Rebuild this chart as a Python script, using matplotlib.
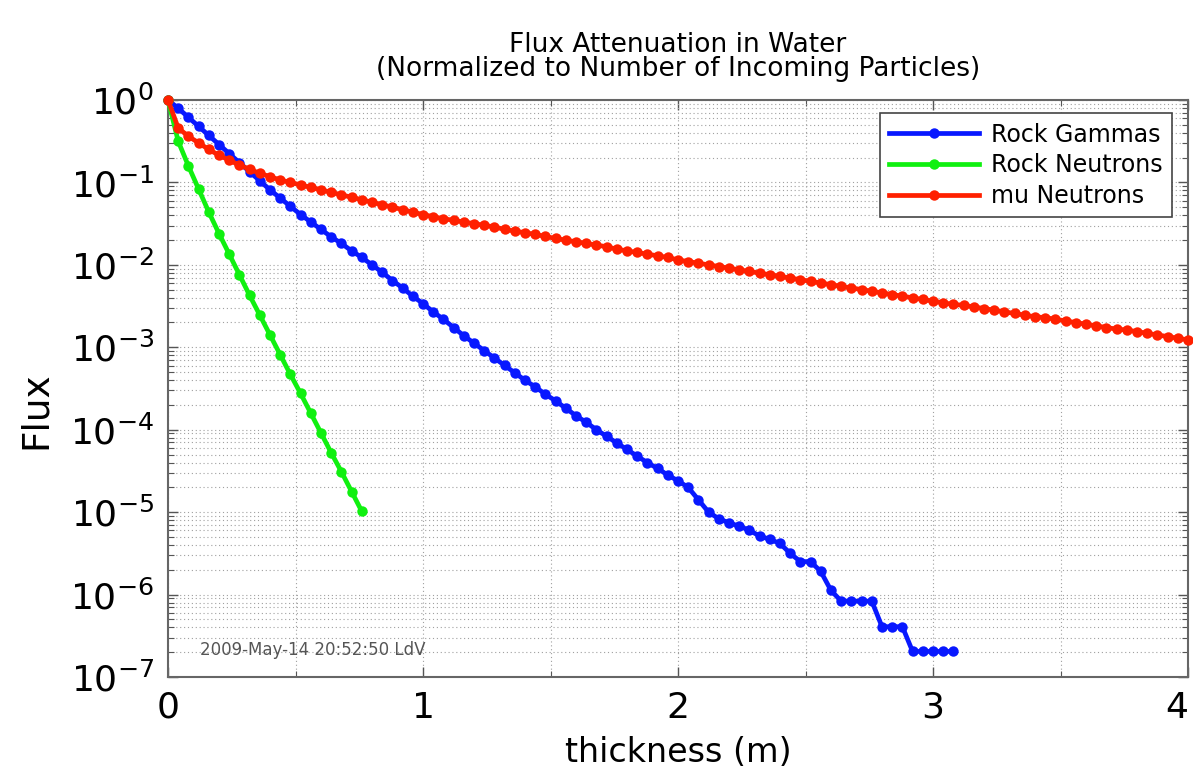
import numpy as np
import matplotlib
matplotlib.use("Agg")
import matplotlib.pyplot as plt
from matplotlib.ticker import MultipleLocator, LogLocator, FixedLocator, NullFormatter, LogFormatterMathtext

plt.rcParams['font.family'] = ['DejaVu Sans']
plt.rcParams['mathtext.fontset'] = 'dejavusans'

# ---------------- data ----------------
thickness = [0.0, 0.04, 0.08, 0.12, 0.16, 0.2, 0.24, 0.28, 0.32, 0.36, 0.4, 0.44, 0.48,
             0.52, 0.56, 0.6, 0.64, 0.68, 0.72, 0.76, 0.8, 0.84, 0.88, 0.92, 0.96, 1.0,
             1.04, 1.08, 1.12, 1.16, 1.2, 1.24, 1.28, 1.32, 1.36, 1.4, 1.44, 1.48, 1.52,
             1.56, 1.6, 1.64, 1.68, 1.72, 1.76, 1.8, 1.84, 1.88, 1.92, 1.96, 2.0, 2.04,
             2.08, 2.12, 2.16, 2.2, 2.24, 2.28, 2.32, 2.36, 2.4, 2.44, 2.48, 2.52, 2.56,
             2.6, 2.64, 2.68, 2.72, 2.76, 2.8, 2.84, 2.88, 2.92, 2.96, 3.0, 3.04, 3.08,
             3.12, 3.16, 3.2, 3.24, 3.28, 3.32, 3.36, 3.4, 3.44, 3.48, 3.52, 3.56, 3.6,
             3.64, 3.68, 3.72, 3.76, 3.8, 3.84, 3.88, 3.92, 3.96, 4.0]

# log10 of the normalized flux
rock_gammas_log10 = [0.00, -0.10, -0.21, -0.32, -0.43, -0.54, -0.65, -0.76, -0.87, -0.98,
                     -1.09, -1.19, -1.29, -1.39, -1.48, -1.57, -1.66, -1.74, -1.83, -1.91,
                     -2.00, -2.09, -2.19, -2.28, -2.38, -2.47, -2.57, -2.66, -2.76, -2.86,
                     -2.95, -3.04, -3.13, -3.22, -3.31, -3.40, -3.48, -3.57, -3.65, -3.74,
                     -3.83, -3.91, -4.00, -4.08, -4.16, -4.24, -4.32, -4.40, -4.47, -4.55,
                     -4.62, -4.70, -4.85, -5.00, -5.08, -5.13, -5.17, -5.22, -5.29, -5.33,
                     -5.38, -5.50, -5.60, -5.60, -5.72, -5.95, -6.08, -6.08, -6.08, -6.08,
                     -6.39, -6.39, -6.39, -6.69, -6.69, -6.69, -6.69, -6.69]

rock_neutrons_log10 = [0.00, -0.50, -0.80, -1.08, -1.36, -1.62, -1.87, -2.12, -2.37, -2.61,
                       -2.85, -3.09, -3.33, -3.56, -3.80, -4.04, -4.28, -4.51, -4.75, -4.99]

mu_neutrons_log10 = [0.00, -0.34, -0.44, -0.52, -0.60, -0.67, -0.73, -0.79, -0.84, -0.89,
                     -0.93, -0.97, -1.00, -1.03, -1.06, -1.09, -1.12, -1.15, -1.18, -1.21,
                     -1.24, -1.27, -1.30, -1.33, -1.36, -1.39, -1.415, -1.44, -1.46, -1.48,
                     -1.50, -1.52, -1.54, -1.57, -1.59, -1.61, -1.63, -1.655, -1.68, -1.70,
                     -1.72, -1.74, -1.76, -1.78, -1.81, -1.83, -1.85, -1.87, -1.89, -1.91,
                     -1.94, -1.96, -1.98, -2.00, -2.02, -2.04, -2.06, -2.08, -2.10, -2.12,
                     -2.14, -2.16, -2.18, -2.20, -2.22, -2.24, -2.26, -2.28, -2.30, -2.32,
                     -2.34, -2.36, -2.38, -2.40, -2.42, -2.44, -2.46, -2.48, -2.49, -2.51,
                     -2.53, -2.55, -2.57, -2.59, -2.61, -2.63, -2.64, -2.66, -2.68, -2.70,
                     -2.72, -2.74, -2.76, -2.78, -2.79, -2.81, -2.83, -2.85, -2.87, -2.89,
                     -2.91]

series_names = ["Rock Gammas", "Rock Neutrons", "mu Neutrons"]
series_colors = ["#0818ff", "#10f010", "#ff2000"]

x_ticks = [0, 1, 2, 3, 4]
title_text = "Flux Attenuation in Water\n(Normalized to Number of Incoming Particles)"
stamp_text = "2009-May-14 20:52:50 LdV"

# ---------------- figure ----------------
W, H = 1193, 772
fig = plt.figure(figsize=(W / 100, H / 100), dpi=100)
ax = fig.add_axes([168 / W, 95 / H, 1020 / W, 577 / H])

all_logs = [rock_gammas_log10, rock_neutrons_log10, mu_neutrons_log10]
for name, color, logs in zip(series_names, series_colors, all_logs):
    x = np.array(thickness[:len(logs)])
    y = 10.0 ** np.array(logs)
    ax.plot(x, y, '-o', color=color, lw=3.4, markersize=7.5, markeredgewidth=0,
            label=name, clip_on=False, zorder=3)

ax.set_yscale('log')
ax.set_xlim(0, 4)
ax.set_ylim(1e-7, 1)

ax.xaxis.set_major_locator(FixedLocator(x_ticks))
ax.xaxis.set_minor_locator(MultipleLocator(0.5))
ax.yaxis.set_major_locator(LogLocator(base=10, numticks=20))
ax.yaxis.set_minor_locator(LogLocator(base=10, subs=np.arange(2, 10), numticks=20))
ax.yaxis.set_major_formatter(LogFormatterMathtext())
ax.yaxis.set_minor_formatter(NullFormatter())

ax.grid(True, which='both', axis='both', linestyle=(0, (1, 2.5)), color='#a0a0a0',
        linewidth=0.8, zorder=0)
ax.set_axisbelow(True)

ax.tick_params(which='both', direction='in', top=True, right=True, colors='#555555',
               labelcolor='black')
ax.tick_params(which='major', length=7, width=1.0, labelsize=26, pad=10)
ax.tick_params(which='minor', length=4, width=0.8)
for s in ax.spines.values():
    s.set_color('#666666')
    s.set_linewidth(1.5)

fig.canvas.draw()
xt_labels = ax.get_xticklabels()
xt_labels[-1].set_horizontalalignment('right')
xt_labels[-1].set_x(4.0)

ax.set_title(title_text, fontsize=19, pad=17, linespacing=0.92)
ax.set_xlabel("thickness (m)", fontsize=24, labelpad=8)
ax.set_ylabel("Flux", fontsize=27)
ax.yaxis.set_label_coords(-0.112, 0.463)

leg = ax.legend(loc='upper right', bbox_to_anchor=(0.984, 0.977), borderaxespad=0,
                fontsize=17, numpoints=1, handlelength=3.8, handletextpad=0.5,
                labelspacing=0.28, borderpad=0.4, fancybox=False, framealpha=1,
                edgecolor='#444444')
leg.get_frame().set_linewidth(1.2)

ax.text(0.031, 0.047, stamp_text, transform=ax.transAxes, fontsize=12,
        color='#555555', va='center', ha='left')

fig.savefig("out.png", dpi=100)
